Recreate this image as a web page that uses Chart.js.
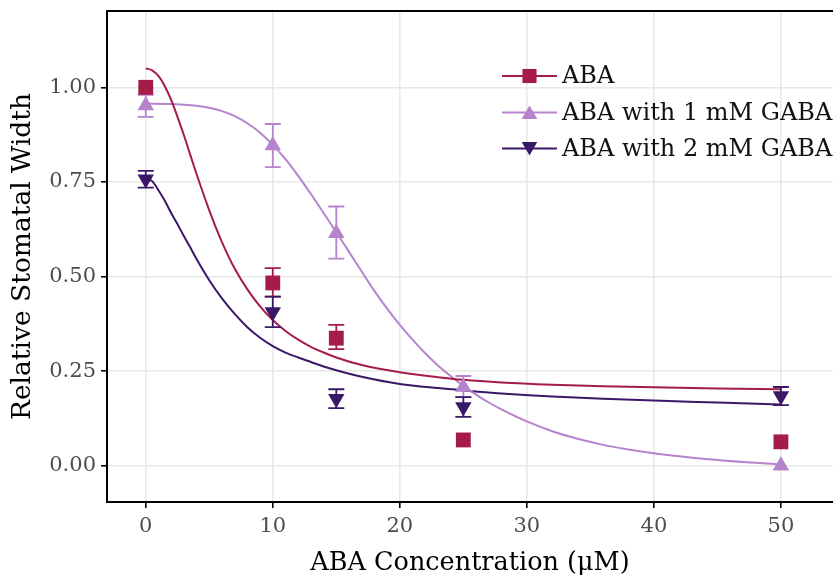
<!DOCTYPE html>
<html>
<head>
<meta charset="utf-8">
<style>
  html, body { margin: 0; padding: 0; background: #ffffff; overflow: hidden; }
  #wrap { width: 833px; height: 578px; }
</style>
<script src="https://cdn.jsdelivr.net/npm/chart.js@4.4.1/dist/chart.umd.min.js"></script>
</head>
<body>
<div id="wrap"><canvas id="chart" width="833" height="578"></canvas></div>
<script>
// ABA concentrations (µM) at which stomatal width was measured
const concentrations = [0, 10, 15, 25, 50];

// Mean relative stomatal width with lower / upper error limits (null = no visible bar)
const abaMean  = [1.000, 0.483, 0.337, 0.068, 0.063];
const abaLow   = [null, 0.447, 0.308, null, null];
const abaHigh  = [null, 0.522, 0.372, null, null];

const gaba1Mean = [0.952, 0.846, 0.614, 0.208, 0.000];
const gaba1Low  = [0.922, 0.789, 0.547, 0.181, null];
const gaba1High = [0.980, 0.903, 0.685, 0.237, null];

const gaba2Mean = [0.757, 0.406, 0.177, 0.155, 0.184];
const gaba2Low  = [0.735, 0.366, 0.152, 0.129, 0.160];
const gaba2High = [0.779, 0.447, 0.202, 0.181, 0.208];

// Fitted dose-response curves
const abaFitX  = [0, 0.5, 1, 1.5, 2, 2.5, 3, 3.5, 4, 5, 6, 7, 8, 9, 10, 11, 12, 13, 14, 15, 17, 20, 23, 25, 28, 32, 36, 40, 45, 50];
const abaFitY  = [1.050, 1.045, 1.030, 1.003, 0.967, 0.922, 0.874, 0.822, 0.771, 0.675, 0.591, 0.521, 0.466, 0.421, 0.385, 0.356, 0.333, 0.314, 0.299, 0.286, 0.266, 0.247, 0.234, 0.227, 0.220, 0.214, 0.210, 0.207, 0.204, 0.202];

const gaba1FitX = [0, 2, 4, 5, 6, 7, 8, 9, 10, 11, 12, 13, 14, 15, 16, 17, 18, 19, 20, 21, 22, 23, 24, 25, 26, 27, 28, 30, 32, 34, 36, 38, 40, 42, 45, 50];
const gaba1FitY = [0.957, 0.956, 0.951, 0.946, 0.937, 0.924, 0.905, 0.880, 0.848, 0.810, 0.766, 0.718, 0.668, 0.617, 0.565, 0.513, 0.462, 0.415, 0.372, 0.333, 0.297, 0.265, 0.237, 0.211, 0.188, 0.167, 0.149, 0.117, 0.091, 0.071, 0.055, 0.043, 0.033, 0.025, 0.015, 0.003];

const gaba2FitX = [0, 0.5, 1, 1.5, 2, 2.5, 3, 3.5, 4, 5, 6, 7, 8, 9, 10, 11, 12, 13, 14, 15, 17, 20, 23, 25, 28, 32, 36, 40, 45, 50];
const gaba2FitY = [0.760, 0.752, 0.728, 0.700, 0.668, 0.638, 0.607, 0.577, 0.546, 0.490, 0.442, 0.401, 0.366, 0.338, 0.316, 0.299, 0.286, 0.274, 0.262, 0.252, 0.235, 0.216, 0.205, 0.199, 0.191, 0.183, 0.177, 0.172, 0.167, 0.162];

// Axis ticks and labels
const xTicks = [0, 10, 20, 30, 40, 50];
const yTicks = [0, 0.25, 0.5, 0.75, 1.0];
const yTickLabels = ['0.00', '0.25', '0.50', '0.75', '1.00'];

const seriesNames = ['ABA', 'ABA with 1 mM GABA', 'ABA with 2 mM GABA'];

const RED = '#a51c49';
const LILAC = '#b584cc';
const NAVY = '#3b1866';
const SERIF = '"DejaVu Serif", serif';

const toXY = (xs, ys) => xs.map((x, i) => ({ x: x, y: ys[i] }));

const seriesStyle = [
  { color: RED,   style: 'rect',     radius: 10.5, rotation: 0 },
  { color: LILAC, style: 'triangle', radius: 9.5,  rotation: 0 },
  { color: NAVY,  style: 'triangle', radius: 9.5,  rotation: 180 }
];

const errorSets = [
  { low: abaLow,   high: abaHigh,   color: RED },
  { low: gaba1Low, high: gaba1High, color: LILAC },
  { low: gaba2Low, high: gaba2High, color: NAVY }
];

function curveDataset(xs, ys, color) {
  return {
    type: 'line',
    data: toXY(xs, ys),
    borderColor: color,
    borderWidth: 2,
    pointRadius: 0,
    pointHoverRadius: 0,
    fill: false,
    cubicInterpolationMode: 'monotone',
    order: 2,
    isCurve: true
  };
}

function pointDataset(means, idx) {
  const s = seriesStyle[idx];
  return {
    type: 'scatter',
    data: toXY(concentrations, means),
    showLine: false,
    backgroundColor: s.color,
    borderColor: s.color,
    borderWidth: 0,
    pointStyle: s.style,
    pointRadius: s.radius,
    pointHoverRadius: s.radius,
    pointRotation: s.rotation,
    order: 1
  };
}

// Error bars are drawn once, just before the first marker layer
const errorBarPlugin = {
  id: 'errorBars',
  beforeDatasetsDraw(chart) { chart.$barsDone = false; },
  beforeDatasetDraw(chart, args) {
    if (chart.$barsDone || chart.data.datasets[args.index].isCurve) return;
    chart.$barsDone = true;
    const ctx = chart.ctx;
    const xs = chart.scales.x, ys = chart.scales.y;
    const half = 8;
    ctx.save();
    ctx.lineWidth = 1.8;
    errorSets.forEach(set => {
      ctx.strokeStyle = set.color;
      concentrations.forEach((c, i) => {
        if (set.low[i] === null || set.high[i] === null) return;
        const px = xs.getPixelForValue(c);
        const y1 = ys.getPixelForValue(set.low[i]);
        const y2 = ys.getPixelForValue(set.high[i]);
        ctx.beginPath();
        ctx.moveTo(px, y1); ctx.lineTo(px, y2);
        ctx.moveTo(px - half, y1); ctx.lineTo(px + half, y1);
        ctx.moveTo(px - half, y2); ctx.lineTo(px + half, y2);
        ctx.stroke();
      });
    });
    ctx.restore();
  }
};

// Top border of the panel and the legend with line + marker keys
const framePlugin = {
  id: 'frame',
  afterDraw(chart) {
    const ctx = chart.ctx;
    const a = chart.chartArea;
    ctx.save();
    ctx.strokeStyle = '#000000';
    ctx.lineWidth = 2;
    ctx.beginPath();
    ctx.moveTo(a.left - 1, a.top);
    ctx.lineTo(a.right + 2, a.top);
    ctx.stroke();

    const rows = [76, 112.5, 148.5];
    const lineL = 502, lineR = 557, markX = 529.5, textX = 562;
    ctx.font = '24px ' + SERIF;
    ctx.textBaseline = 'middle';
    ctx.textAlign = 'left';
    seriesNames.forEach((name, i) => {
      const s = seriesStyle[i];
      ctx.strokeStyle = s.color;
      ctx.lineWidth = 2.2;
      ctx.beginPath();
      ctx.moveTo(lineL, rows[i]);
      ctx.lineTo(lineR, rows[i]);
      ctx.stroke();
      ctx.fillStyle = s.color;
      ctx.strokeStyle = s.color;
      Chart.helpers.drawPoint(ctx, {
        pointStyle: s.style,
        radius: s.style === 'rect' ? 10 : 9,
        rotation: s.rotation,
        borderWidth: 0
      }, markX, rows[i] + (s.style === 'triangle' ? (s.rotation ? -2 : 2) : 0));
      ctx.fillStyle = '#111111';
      ctx.fillText(name, textX, rows[i] + 1);
    });
    ctx.restore();
  }
};

new Chart(document.getElementById('chart'), {
  data: {
    datasets: [
      curveDataset(abaFitX, abaFitY, RED),
      curveDataset(gaba1FitX, gaba1FitY, LILAC),
      curveDataset(gaba2FitX, gaba2FitY, NAVY),
      pointDataset(abaMean, 0),
      pointDataset(gaba1Mean, 1),
      pointDataset(gaba2Mean, 2)
    ]
  },
  options: {
    responsive: false,
    animation: false,
    events: [],
    layout: { autoPadding: false, padding: { top: 11, right: 0, left: 0, bottom: 0 } },
    plugins: {
      legend: { display: false },
      tooltip: { enabled: false }
    },
    scales: {
      x: {
        type: 'linear',
        min: -3.05,
        max: 54.1,
        afterBuildTicks(scale) { scale.ticks = xTicks.map(v => ({ value: v })); },
        afterFit(scale) {
          scale.height = 76;
          scale.paddingLeft = 0;
          scale.paddingRight = 0;
        },
        grid: {
          color: '#e8e8e8',
          lineWidth: 1.6,
          tickColor: '#000000',
          tickLength: 6,
          tickWidth: 1.6,
          drawTicks: true
        },
        border: { color: '#000000', width: 2 },
        ticks: {
          color: '#4d4d4d',
          font: { family: SERIF, size: 21 },
          padding: 6,
          maxRotation: 0,
          callback: v => String(v)
        },
        title: {
          display: true,
          text: 'ABA Concentration (μM)',
          color: '#000000',
          font: { family: SERIF, size: 25.5, lineHeight: 1 },
          padding: { top: 0, bottom: 2 }
        }
      },
      y: {
        type: 'linear',
        min: -0.096,
        max: 1.2017,
        afterBuildTicks(scale) { scale.ticks = yTicks.map(v => ({ value: v })); },
        afterFit(scale) {
          scale.width = 107;
          scale.paddingTop = 0;
          scale.paddingBottom = 0;
        },
        grid: {
          color: '#e8e8e8',
          lineWidth: 1.6,
          tickColor: '#000000',
          tickLength: 6,
          tickWidth: 1.6
        },
        border: { color: '#000000', width: 2 },
        ticks: {
          color: '#4d4d4d',
          font: { family: SERIF, size: 21 },
          padding: 5,
          callback: (v, i) => yTickLabels[yTicks.indexOf(v)]
        },
        title: {
          display: true,
          text: 'Relative Stomatal Width',
          color: '#000000',
          font: { family: SERIF, size: 26.5, lineHeight: 1 },
          padding: { top: 10, bottom: 0 }
        }
      }
    }
  },
  plugins: [errorBarPlugin, framePlugin]
});
</script>
</body>
</html>
